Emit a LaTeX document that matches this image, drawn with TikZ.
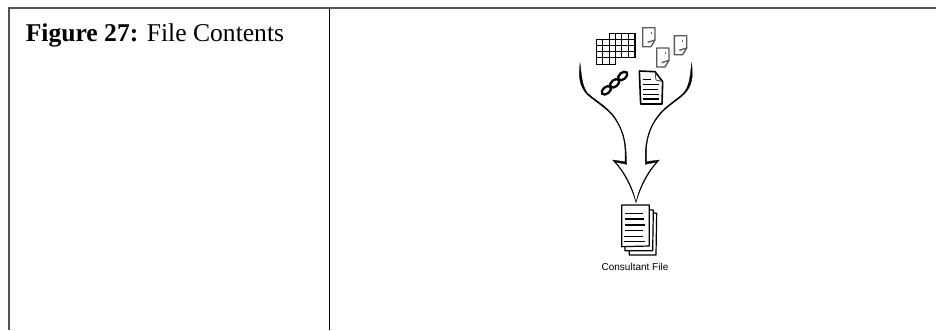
\documentclass[tikz,border=0pt]{standalone}
\usepackage{fontspec}
\setmainfont{Liberation Serif}
\setsansfont{Liberation Sans}
\begin{document}
\begin{tikzpicture}[x=0.75pt,y=-0.75pt,
  rule/.style={draw=black!68,line width=1.5pt},
  inner/.style={draw=black,line width=1pt},
  ink/.style={draw=black,line width=0.95pt,line join=round},
  inkthin/.style={draw=black!80,line width=0.6pt},
  funnel/.style={fill=black,draw=black,line width=0.25pt},
  smallpage/.style={draw=black!65,line width=1pt,fill=white,line join=round},
  stackpage/.style={draw=black,line width=0.9pt,fill=white,line join=round}]
\useasboundingbox (0,0) rectangle (936,330);
\fill[white] (0,0) rectangle (936,330);
\coordinate (tl) at (9.3,8);
\coordinate (tr) at (936,8);
\coordinate (bl) at (9.3,330);
\coordinate (mt) at (329.3,8);
\coordinate (mb) at (329.3,330);
\draw[inner] (mt) -- (mb);
\draw[rule] (bl) -- (tl) -- (tr);
\node[anchor=base west,inner sep=0pt,font=\fontsize{19.2pt}{22pt}\selectfont] (cap) at (25.5,41.5) {\textbf{Figure 27:} File Contents};
\node[anchor=base,inner sep=0pt,font=\sffamily\fontsize{7.5pt}{9pt}\selectfont] (lab) at (635,270) {Consultant File};
\begin{scope}[shift={(570,10)},x=0.25pt,y=-0.25pt]
 % grid
 \foreach \y in {88,107,125,143}{\draw[ink] (78,\y)--(198,\y);}
 \draw[ink] (118,70)--(197,70);
 \draw[ink] (78,163)--(137,163);
 \foreach \x in {80,98,118}{\draw[ink] (\x,88)--(\x,163);}
 \draw[ink] (137,88)--(137,163);
 \foreach \x in {155,175,195}{\draw[ink] (\x,70)--(\x,143);}
 \draw[ink] (118,70)--(118,88);
 \draw[ink] (137,70)--(137,88);
 % small pages
 \foreach \dx/\dy in {0/0,42/61,95/24}{
  \begin{scope}[shift={(\dx,\dy)}]
   \draw[smallpage] (218,53)--(255,53)--(255,90)--(243,110)--(218,110)--cycle;
   \draw[smallpage] (233,97)--(255,90);
   \fill[black!60] (242,65) rectangle (245,72);
  \end{scope}}
 % chain
 \foreach \cx/\cy in {109/241,134/220,158/198}{
   \draw[black,line width=1.7pt] (\cx,\cy) ellipse [x radius=16,y radius=10,rotate=40];}
 % document
 \draw[black,line width=1.2pt,fill=white,line join=round] (208,183)--(255,185)--(278,215)--(276,282)--(212,282)--cycle;
 \draw[inkthin] (255,185)--(258,210)--(278,215);
 \foreach \xa/\xb/\y in {218/243/208,218/268/224,218/265/238,218/268/253,218/268/267}{
   \draw[black,line width=1.2pt] (\xa,\y)--(\xb,\y);}
 % funnel
 \fill[funnel] (30,160) .. controls (26,200) and (27,225) .. (50,252)
    .. controls (75,275) and (105,290) .. (130,320)
    .. controls (148,345) and (163,375) .. (165,420)
    -- (165,455) -- (128,450)
    .. controls (158,480) and (185,530) .. (198,578)
    .. controls (187,525) and (160,482) .. (136,456)
    -- (170,463) -- (168,420)
    .. controls (165,375) and (150,345) .. (132,318)
    .. controls (108,288) and (78,272) .. (53,250)
    .. controls (36,228) and (35,200) .. (30,160) -- cycle;
 \fill[funnel] (365,160) .. controls (369,200) and (368,225) .. (343,252)
    .. controls (318,275) and (288,290) .. (265,320)
    .. controls (245,345) and (232,375) .. (229,420)
    -- (229,455) -- (268,450)
    .. controls (238,480) and (211,530) .. (198,578)
    .. controls (209,525) and (236,482) .. (260,456)
    -- (226,463) -- (226,420)
    .. controls (230,375) and (243,345) .. (263,318)
    .. controls (286,288) and (316,272) .. (340,250)
    .. controls (359,228) and (360,200) .. (365,160) -- cycle;
 % stack
 \draw[stackpage] (178,600)--(260,610)--(258,735)--(178,735)--cycle;
 \draw[stackpage] (165,595)--(250,600)--(248,722)--(165,722)--cycle;
 \draw[stackpage] (155,585)--(238,585)--(238,708)--(155,710)--cycle;
 \foreach \xa/\xb/\y in {165/218/610,165/222/627,165/224/645,165/220/662,163/220/680,163/224/695}{
   \draw[black,line width=1.2pt] (\xa,\y)--(\xb,\y);}
\end{scope}
\end{tikzpicture}
\end{document}
